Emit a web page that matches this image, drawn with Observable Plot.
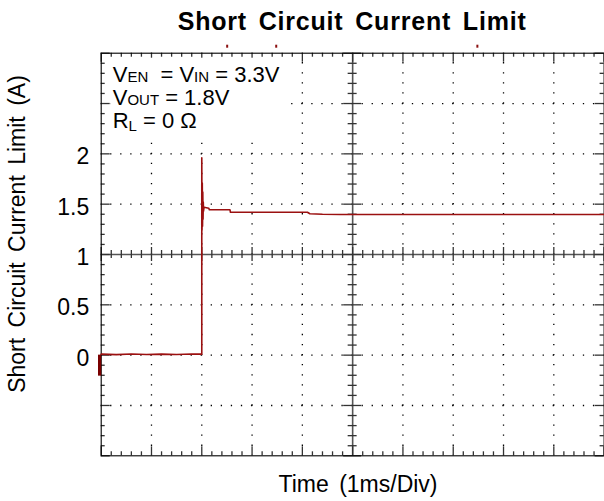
<!DOCTYPE html>
<html><head><meta charset="utf-8">
<script src="https://cdn.jsdelivr.net/npm/d3@7"></script>
<script src="https://cdn.jsdelivr.net/npm/@observablehq/plot@0.6"></script>
<style>html,body{margin:0;padding:0;background:#fff;} svg{display:block}</style>
</head><body><div id="chart"></div>
<script>
// ---- data ----
const timeMs   = [0, 0.3, 0.6, 0.9, 1.2, 1.5, 1.8, 2.0, 2.0, 2.005, 2.01, 2.015, 2.02, 2.025, 2.03, 2.035, 2.045, 2.14, 2.15, 2.56, 2.57, 4.1, 4.15, 4.4, 4.76, 10];
const currentA = [0.01, 0.005, 0.012, 0.006, 0.01, 0.006, 0.011, 0.01, 1.96, 1.24, 1.71, 1.28, 1.62, 1.35, 1.52, 1.43, 1.47, 1.46, 1.445, 1.445, 1.42, 1.42, 1.405, 1.40, 1.397, 1.397];
const yTickValues = [0, 0.5, 1, 1.5, 2];
const yTickLabels = ["0", "0.5", "1", "1.5", "2"];
const xDomain = [0, 10];
const yDomain = [-1, 3];
const xDivisions = 10, yDivisions = 8;
const channelMarkerLevel = [0];
const triggerMarks = [2.505, 3.48, 7.48];
const titleText = "Short Circuit Current Limit";
const xLabelText = "Time (1ms/Div)";
const yLabelText = "Short Circuit Current Limit (A)";
const annotations = [
  [["V", ""], ["EN", "sub"], ["\u00a0 = V", ""], ["IN", "sub"], [" = 3.3V", ""]],
  [["V", ""], ["OUT", "sub"], [" = 1.8V", ""]],
  [["R", ""], ["L", "low"], [" = 0 Ω", "back"]]
];

// ---- layout ----
const W = 604, H = 501, ml = 100.7, mr = 0.4, mt = 52.7, mb = 45.7;
const pxX = (W - ml - mr) / (xDomain[1] - xDomain[0]);
const pxY = (H - mt - mb) / (yDomain[1] - yDomain[0]);
const xStep = (xDomain[1] - xDomain[0]) / xDivisions;
const yStep = (yDomain[1] - yDomain[0]) / yDivisions;
const xMajor = d3.range(xDivisions + 1).map(i => xDomain[0] + i * xStep);
const yMajor = d3.range(yDivisions + 1).map(i => yDomain[0] + i * yStep);
const xMinor = d3.range(xDivisions * 5 + 1).map(i => xDomain[0] + i * xStep / 5);
const yMinor = d3.range(yDivisions * 5 + 1).map(i => yDomain[0] + i * yStep / 5);
const xCenter = xMajor[xDivisions / 2], yCenter = yMajor[yDivisions / 2];
const majX = v => Math.abs((v - xDomain[0]) / xStep - Math.round((v - xDomain[0]) / xStep)) < 1e-6;
const majY = v => Math.abs((v - yDomain[0]) / yStep - Math.round((v - yDomain[0]) / yStep)) < 1e-6;
const xInner = xMajor.slice(1, -1).filter(v => v !== xCenter);
const yInner = yMajor.slice(1, -1).filter(v => v !== yCenter);
const dotGapY = pxY * yStep / 5, dotGapX = pxX * xStep / 5;

const trace = timeMs.map((t, i) => ({t, a: currentA[i]}));
const tickStyle = {stroke: "#333", strokeWidth: 1.3};
const edgeLen = (m) => m ? 9 : 4;

const plot = Plot.plot({
  width: W, height: H,
  marginLeft: ml, marginRight: mr, marginTop: mt, marginBottom: mb,
  style: {fontFamily: "'Liberation Sans', Arial, sans-serif", background: "#fff", color: "#000", overflow: "visible"},
  x: {domain: xDomain, axis: null},
  y: {domain: yDomain, axis: null},
  marks: [
    // dotted grid
    Plot.ruleX(xInner, {x: d => d, y1: yDomain[0], y2: yDomain[1], stroke: "#000", strokeWidth: 1.3, strokeDasharray: `1.3 ${dotGapY - 1.3}`, strokeDashoffset: 0.65}),
    Plot.ruleY(yInner, {y: d => d, x1: xDomain[0], x2: xDomain[1], stroke: "#000", strokeWidth: 1.3, strokeDasharray: `1.3 ${dotGapX - 1.3}`, strokeDashoffset: 0.65}),
    // center crosshair
    Plot.ruleX([xCenter], {x: d => d, y1: yDomain[0], y2: yDomain[1], stroke: "#555", strokeWidth: 1.6}),
    Plot.ruleY([yCenter], {y: d => d, x1: xDomain[0], x2: xDomain[1], stroke: "#555", strokeWidth: 1.6}),
    Plot.ruleX(xMinor, {x: d => d, y1: d => yCenter - (majX(d) ? 7 : 4) / pxY, y2: d => yCenter + (majX(d) ? 7 : 4) / pxY, ...tickStyle}),
    Plot.ruleY(yMinor, {y: d => d, x1: d => xCenter - (majY(d) ? 9 : 4.5) / pxX, x2: d => xCenter + (majY(d) ? 9 : 4.5) / pxX, ...tickStyle}),
    // edge ticks
    Plot.ruleX(xMinor, {x: d => d, y1: yDomain[1], y2: d => yDomain[1] - edgeLen(majX(d)) / pxY, ...tickStyle}),
    Plot.ruleX(xMinor, {x: d => d, y1: yDomain[0], y2: d => yDomain[0] + edgeLen(majX(d)) / pxY, ...tickStyle}),
    Plot.ruleY(yMinor, {y: d => d, x1: xDomain[0], x2: d => xDomain[0] + edgeLen(majY(d)) / pxX, ...tickStyle}),
    Plot.ruleY(yMinor, {y: d => d, x1: xDomain[1], x2: d => xDomain[1] - edgeLen(majY(d)) / pxX, ...tickStyle}),
    Plot.frame({stroke: "#000", strokeWidth: 1.1}),
    // tick labels
    Plot.axisY(yTickValues, {tickSize: 0, tickPadding: 12, fontSize: 23, dy: 3, tickFormat: (d, i) => yTickLabels[i], label: null}),
    // channel marker and trigger marks
    Plot.ruleX(channelMarkerLevel, {x: xDomain[0], y1: d => d, y2: d => d - 21 / pxY, dx: -1.6, stroke: "#7a0000", strokeWidth: 3.2}),
    Plot.ruleX(triggerMarks, {x: d => d, y1: yDomain[1] + 5 / pxY, y2: yDomain[1] + 8 / pxY, stroke: "#8b1010", strokeWidth: 2}),
    // trace
    Plot.line(trace, {x: "t", y: "a", stroke: "#9b1010", strokeWidth: 1.6, curve: "linear"})
  ]
});
document.getElementById("chart").appendChild(plot);

const svg = d3.select(plot);
const sx = plot.scale("x"), sy = plot.scale("y");
const font = "'Liberation Sans', Arial, sans-serif";
// title
svg.append("text").attr("x", (sx.apply(xDomain[0]) + sx.apply(xDomain[1])) / 2).attr("y", 30)
  .attr("text-anchor", "middle").attr("font-family", font).attr("font-weight", "bold")
  .attr("font-size", 25).attr("letter-spacing", 0.8).attr("word-spacing", 4).attr("fill", "#000").text(titleText);
// x label
svg.append("text").attr("x", 358).attr("y", 491.5).attr("text-anchor", "middle")
  .attr("font-family", font).attr("font-size", 23).attr("word-spacing", 4).attr("fill", "#000").text(xLabelText);
// y label
svg.append("text").attr("transform", "translate(25,234) rotate(-90)").attr("text-anchor", "middle")
  .attr("font-family", font).attr("font-size", 23).attr("word-spacing", 4).attr("fill", "#000").text(yLabelText);
// annotation box + annotations
const ax = sx.apply(xDomain[0]) + 12, ay0 = sy.apply(yDomain[1]) + 29;
svg.append("rect").attr("x", sx.apply(xDomain[0]) + 9.5).attr("y", sy.apply(yDomain[1]) + 5)
  .attr("width", 180).attr("height", 84).attr("fill", "#fff");
annotations.forEach((parts, li) => {
  const t = svg.append("text").attr("x", ax).attr("y", ay0 + li * 23.3).attr("text-anchor", "start")
    .attr("font-family", font).attr("font-size", 22).attr("fill", "#000");
  parts.forEach(([s, kind]) => {
    const ts = t.append("tspan").text(s);
    if (kind === "sub") ts.attr("font-size", 15);
    if (kind === "low") ts.attr("font-size", 15).attr("dy", 3);
    if (kind === "back") ts.attr("dy", -3);
  });
});
</script></body></html>
